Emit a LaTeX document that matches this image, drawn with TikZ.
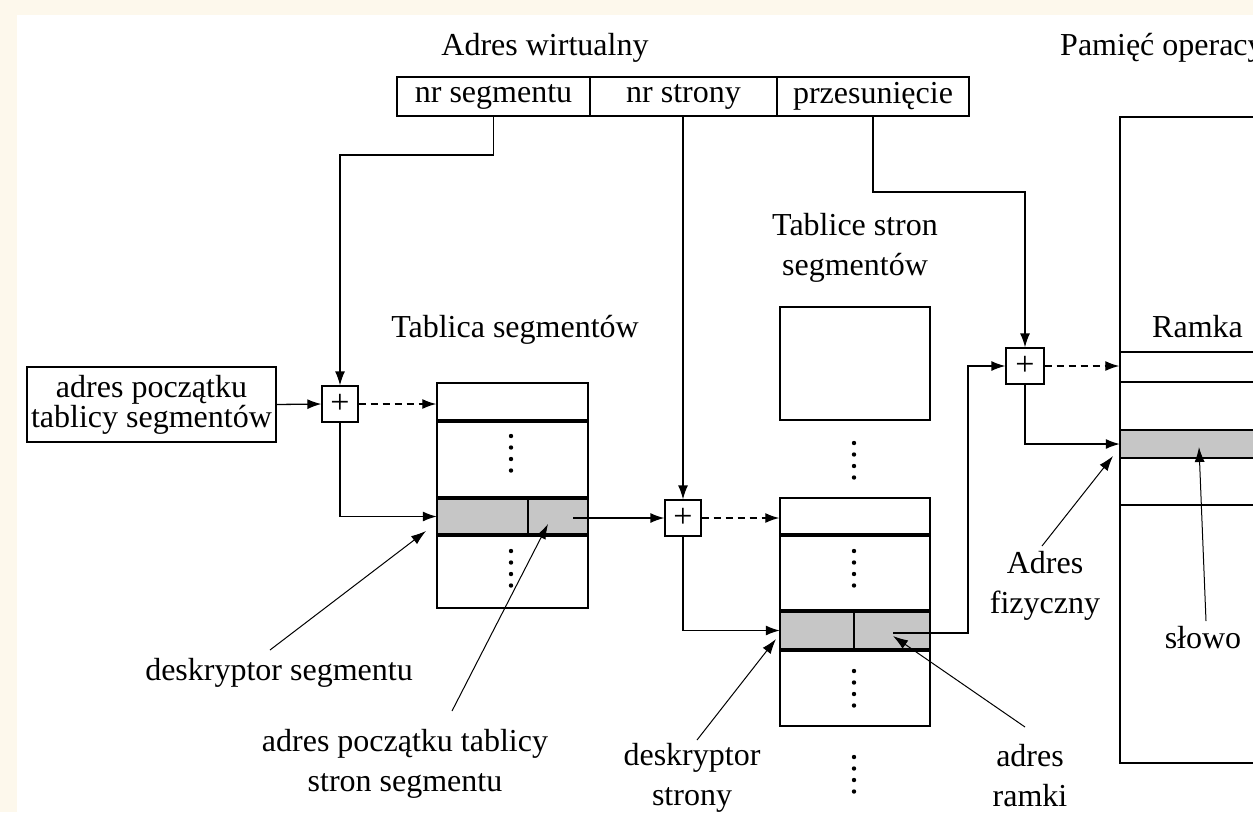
\documentclass[tikz,border=0pt]{standalone}
\usepackage{fontspec}
\setmainfont{Liberation Serif}
\usetikzlibrary{arrows.meta}
\definecolor{cream}{HTML}{FDF8EC}
\definecolor{cellgray}{HTML}{C6C6C6}
\newcommand\dotcol[2]{\foreach \k in {0,1,2,3}{\fill (#1,{#2+11.5*\k}) circle (2.2pt);}}
\begin{document}
\begin{tikzpicture}[x=1pt,y=-1pt,
  txt/.style={font=\fontsize{32}{40}\selectfont, inner sep=0pt, align=center},
  cell/.style={draw, line width=1.3pt, minimum height=39pt, inner sep=0pt, txt},
  plusbox/.style={draw, line width=1.3pt, minimum width=36pt, minimum height=36pt, inner sep=0pt, fill=white, font=\fontsize{34}{34}\selectfont},
  conn/.style={line width=1.3pt, -{Latex[length=14pt,width=10pt]}},
  dconn/.style={conn, dash pattern=on 7pt off 5pt},
  ann/.style={line width=1pt, -{Latex[length=15pt,width=10pt]}},
  frame/.style={draw, line width=1.5pt, inner sep=0pt},
  sep/.style={line width=3.2pt},
  grey/.style={fill=cellgray, inner sep=0pt}
]
\useasboundingbox (0,0) rectangle (1253,812);
\begin{scope}
\clip (0,0) rectangle (1253,812);
\fill[cream] (0,0) rectangle (1253,812);
\fill[white] (17,15) rectangle (1253,812);

% ---------- titles ----------
\node[txt, anchor=base] (tva) at (545,55) {Adres wirtualny};
\node[txt, anchor=base west] (tmem) at (1060,55) {Pamięć operacyjna};
\node[txt] (tpt) at (855,248) {Tablice stron\\segmentów};
\node[txt, anchor=base] (tst) at (515,337) {Tablica segmentów};
\node[txt, anchor=base west] (tram) at (1152,337) {Ramka};

% ---------- virtual address ----------
\node[cell, minimum width=193pt] (cseg) at (493.5,96.5) {nr segmentu};
\node[cell, minimum width=187pt] (cstr) at (683.5,96.5) {nr strony};
\node[cell, minimum width=192pt] (cprz) at (873,96.5) {przesunięcie};

% ---------- start address box ----------
\node[draw, line width=1.3pt, minimum width=249pt, minimum height=75pt, inner sep=0pt,
      font=\fontsize{32}{29}\selectfont, align=center] (sb) at (151.5,404.5) {adres początku\\tablicy segmentów};

% ---------- segment table ----------
\node[grey, minimum width=151pt, minimum height=37pt] (sg) at (512.5,516.5) {};
\node[frame, minimum width=151pt, minimum height=225pt] (st) at (512.5,495.5) {};
\draw[sep] (437,421) -- (588,421);
\draw[sep] (437,498) -- (588,498);
\draw[sep] (437,535) -- (588,535);
\draw[line width=1.5pt] (528,498) -- (528,535);
\dotcol{511}{436}
\dotcol{511}{551}

% ---------- page tables ----------
\node[frame, minimum width=150pt, minimum height=113pt] (ptu) at (855,363.5) {};
\dotcol{854}{443}
\node[grey, minimum width=150pt, minimum height=39pt] (pg) at (855,630.5) {};
\node[frame, minimum width=150pt, minimum height=228pt] (pt) at (855,612) {};
\draw[sep] (780,535) -- (930,535);
\draw[sep] (780,611) -- (930,611);
\draw[sep] (780,650) -- (930,650);
\draw[line width=1.5pt] (854,611) -- (854,650);
\dotcol{854}{551}
\dotcol{854}{671}
\dotcol{854}{757}

% ---------- memory ----------
\node[grey, minimum width=200pt, minimum height=28pt] (mg) at (1220,444) {};
\node[frame, minimum width=200pt, minimum height=646pt] (mem) at (1220,440) {};
\draw[line width=1.5pt] (1120,352) -- (1320,352);
\draw[line width=1.5pt] (1120,382) -- (1320,382);
\draw[line width=1.5pt] (1120,430) -- (1320,430);
\draw[line width=1.5pt] (1120,458) -- (1320,458);
\draw[line width=1.5pt] (1120,505) -- (1320,505);

% ---------- adders ----------
\node[plusbox] (p1) at (340,404) {+};
\node[plusbox] (p2) at (683,518) {+};
\node[plusbox, minimum width=38pt] (p3) at (1025,366) {+};

% ---------- connectors ----------
\coordinate (b1) at (340,155);
\coordinate (b3) at (1025,192);
\coordinate (sgr) at (573,518);
\coordinate (pgr) at (893,633);
\coordinate (b4) at (968,366);

\draw[conn] (cseg.south) |- (b1) -- (p1.north);
\draw[conn] (p2.north |- cstr.south) -- (p2.north);
\draw[conn] (cprz.south) |- (b3) -- (p3.north);

\draw[conn] (sb.east) -- (p1.west);
\draw[dconn] (p1.east) -- (p1.east -| st.west);
\draw[conn] (p1.south) |- (sg.west);

\draw[conn] (sgr) -- (sgr -| p2.west);
\draw[dconn] (p2.east) -- (p2.east -| pt.west);
\draw[conn] (p2.south) |- (pg.west);

\draw[conn] (pgr) -| (b4) -- (p3.west);
\draw[dconn] (p3.east) -- (p3.east -| mem.west);
\draw[conn] (p3.south) |- (mg.west);

% ---------- annotation labels ----------
\node[txt, anchor=base] (ldseg) at (279,680) {deskryptor segmentu};
\node[txt] (lapt) at (405,764) {adres początku tablicy\\stron segmentu};
\node[txt] (ldstr) at (692,778) {deskryptor\\strony};
\node[txt] (lram) at (1030,776) {adres\\ramki};
\node[txt] (lfiz) at (1045,586) {Adres\\fizyczny};
\node[txt, anchor=base] (lslo) at (1203,648) {słowo};

\coordinate (a1s) at (270,650);  \coordinate (a1t) at (426,531);
\coordinate (a2s) at (452,711);  \coordinate (a2t) at (548,524);
\coordinate (a3s) at (697,740);  \coordinate (a3t) at (776,639);
\coordinate (a4s) at (1025,727); \coordinate (a4t) at (893,636);
\coordinate (a5s) at (1042,546); \coordinate (a5t) at (1113,456);
\coordinate (a6s) at (1206,621); \coordinate (a6t) at (1199,447);

\draw[ann] (a1s) -- (a1t);
\draw[ann] (a2s) -- (a2t);
\draw[ann] (a3s) -- (a3t);
\draw[ann] (a4s) -- (a4t);
\draw[ann] (a5s) -- (a5t);
\draw[ann] (a6s) -- (a6t);
\end{scope}
\end{tikzpicture}
\end{document}
